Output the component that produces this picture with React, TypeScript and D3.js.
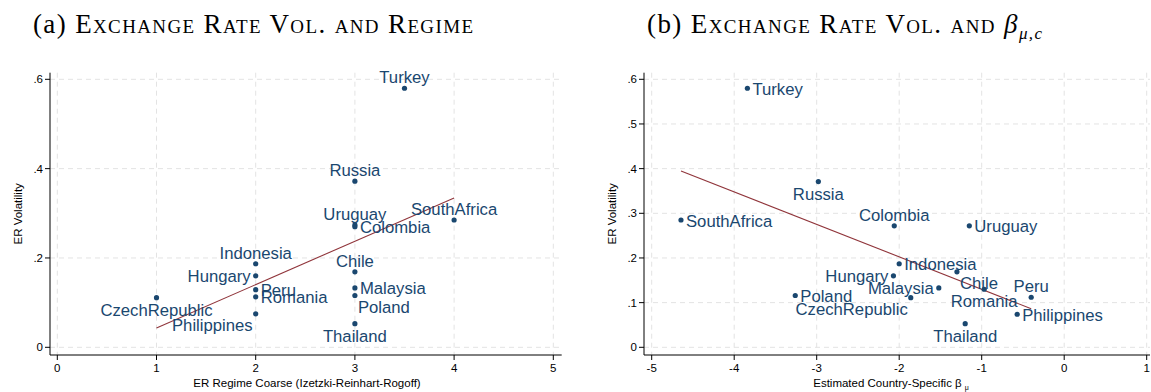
import React from "react";
import * as d3 from "d3";

// Panel (a): exchange-rate regime (coarse IRR classification) vs. ER volatility
const countriesA = [
  "Turkey", "Russia", "Uruguay", "Colombia", "SouthAfrica", "Chile", "Malaysia", "Poland",
  "Thailand", "Indonesia", "Hungary", "Peru", "Romania", "Philippines", "CzechRepublic",
];
const regimeA = [3.5, 3, 3, 3, 4, 3, 3, 3, 3, 2, 2, 2, 2, 2, 1];
const volA = [0.58, 0.372, 0.274, 0.27, 0.285, 0.169, 0.133, 0.116, 0.053, 0.187, 0.16, 0.129, 0.113, 0.075, 0.111];

// Panel (b): estimated country-specific beta vs. ER volatility
const countriesB = [
  "Turkey", "Russia", "SouthAfrica", "Poland", "CzechRepublic", "Colombia", "Uruguay", "Indonesia",
  "Hungary", "Malaysia", "Chile", "Romania", "Peru", "Philippines", "Thailand",
];
const betaB = [-3.84, -2.98, -4.645, -3.26, -1.86, -2.06, -1.15, -2.0, -2.07, -1.52, -1.3, -0.97, -0.4, -0.57, -1.2];
const volB = [0.58, 0.371, 0.285, 0.116, 0.111, 0.272, 0.272, 0.187, 0.16, 0.133, 0.169, 0.13, 0.112, 0.074, 0.053];

const xTicksA = [0, 1, 2, 3, 4, 5];
const yTicksA = [0, 0.2, 0.4, 0.6];
const xTicksB = [-5, -4, -3, -2, -1, 0, 1];
const yTicksB = [0, 0.1, 0.2, 0.3, 0.4, 0.5, 0.6];

// Marker-label clock positions (Stata style)
const clockA: Record<string, number> = {
  Turkey: 12, Russia: 12, Uruguay: 12, Colombia: 3, SouthAfrica: 12, Chile: 12, Malaysia: 3,
  Poland: 4, Thailand: 6, Indonesia: 12, Hungary: 9, Peru: 3, Romania: 3, Philippines: 7, CzechRepublic: 6,
};
const clockB: Record<string, number> = {
  Turkey: 3, Russia: 6, SouthAfrica: 3, Poland: 3, CzechRepublic: 7, Colombia: 12, Uruguay: 3,
  Indonesia: 3, Hungary: 9, Malaysia: 9, Chile: 4, Romania: 6, Peru: 12, Philippines: 3, Thailand: 6,
};

const NAVY = "#1a476f";
const MAROON = "#90353b";
const GRID = "#e3e3e3";
const SANS = "'Liberation Sans', Arial, Helvetica, sans-serif";
const SERIF = "'Liberation Serif', 'Times New Roman', serif";

function labelOffset(pos: number) {
  switch (pos) {
    case 3: return { dx: 5, dy: 6.5, anchor: "start" };
    case 9: return { dx: -5, dy: 6.5, anchor: "end" };
    case 12: return { dx: 0, dy: -5, anchor: "middle" };
    case 6: return { dx: 0, dy: 18, anchor: "middle" };
    case 4: return { dx: 3, dy: 17.5, anchor: "start" };
    case 7: return { dx: -3, dy: 17.5, anchor: "end" };
    default: return { dx: 5, dy: 6.5, anchor: "start" };
  }
}

function olsFit(xs: number[], ys: number[]) {
  const mx = d3.mean(xs)!;
  const my = d3.mean(ys)!;
  let sxy = 0, sxx = 0;
  xs.forEach((x, i) => {
    sxy += (x - mx) * (ys[i] - my);
    sxx += (x - mx) * (x - mx);
  });
  const b = sxy / sxx;
  return (x: number) => my + b * (x - mx);
}

type PanelProps = {
  names: string[];
  xs: number[];
  ys: number[];
  clock: Record<string, number>;
  xTicks: number[];
  yTicks: number[];
  xDomain: [number, number];
  xRange: [number, number];
  axisLeft: number;
  axisRight: number;
  yTitleX: number;
  xTitle: React.ReactNode;
  xTitleX: number;
  xTickFmt: (v: number) => string;
};

function Panel(p: PanelProps) {
  const top = 72.7;
  const bottom = 355;
  const x = d3.scaleLinear().domain(p.xDomain).range(p.xRange);
  const y = d3.scaleLinear().domain([0, 0.6]).range([347.3, 79.3]);
  const yFmt = (v: number) => (v === 0 ? "0" : d3.format(".1f")(v).replace(/^0/, ""));
  const fit = olsFit(p.xs, p.ys);
  const [x0, x1] = d3.extent(p.xs) as [number, number];
  const line = d3.line<number>().x((v) => x(v)).y((v) => y(fit(v)));

  return (
    <g>
      {/* grid */}
      {p.yTicks.map((t) => (
        <line key={"gy" + t} x1={p.axisLeft} x2={p.axisRight} y1={y(t)} y2={y(t)}
          stroke={GRID} strokeWidth={1} strokeDasharray="5,4" />
      ))}
      {p.xTicks.map((t) => (
        <line key={"gx" + t} x1={x(t)} x2={x(t)} y1={top} y2={bottom}
          stroke={GRID} strokeWidth={1} strokeDasharray="5,4" />
      ))}
      {/* axes */}
      <line x1={p.axisLeft} x2={p.axisLeft} y1={top} y2={bottom} stroke="#000" strokeWidth={1} />
      <line x1={p.axisLeft} x2={p.axisRight} y1={bottom} y2={bottom} stroke="#000" strokeWidth={1} />
      {p.yTicks.map((t) => (
        <g key={"ty" + t}>
          <line x1={p.axisLeft - 5} x2={p.axisLeft} y1={y(t)} y2={y(t)} stroke="#000" />
          <text x={p.axisLeft - 7} y={y(t)} dy="0.36em" textAnchor="end"
            fontFamily={SANS} fontSize={11.5} fill="#000">{yFmt(t)}</text>
        </g>
      ))}
      {p.xTicks.map((t) => (
        <g key={"tx" + t}>
          <line x1={x(t)} x2={x(t)} y1={bottom} y2={bottom + 5} stroke="#000" />
          <text x={x(t)} y={371.5} textAnchor="middle"
            fontFamily={SANS} fontSize={11.5} fill="#000">{p.xTickFmt(t)}</text>
        </g>
      ))}
      {/* axis titles */}
      <text transform={`translate(${p.yTitleX},${(top + bottom) / 2}) rotate(-90)`} textAnchor="middle"
        fontFamily={SANS} fontSize={11.5} fill="#000">ER Volatility</text>
      <text x={p.xTitleX} y={387} textAnchor="middle" fontFamily={SANS} fontSize={11.5} fill="#000">
        {p.xTitle}
      </text>
      {/* fitted line */}
      <path d={line([x0, x1]) || ""} fill="none" stroke={MAROON} strokeWidth={1.1} />
      {/* points + labels */}
      {p.names.map((n, i) => {
        const cx = x(p.xs[i]);
        const cy = y(p.ys[i]);
        const o = labelOffset(p.clock[n]);
        return (
          <g key={n}>
            <circle cx={cx} cy={cy} r={2.6} fill={NAVY} />
            <text x={cx + o.dx} y={cy + o.dy} textAnchor={o.anchor as any}
              fontFamily={SANS} fontSize={16.7} fill={NAVY}>{n}</text>
          </g>
        );
      })}
    </g>
  );
}

export default function App() {
  const intFmt = (v: number) => d3.format("d")(v).replace("−", "-");
  return (
    <svg width={1151} height={392} viewBox="0 0 1151 392"
      style={{ display: "block", position: "absolute", left: 0, top: 0, background: "#fff" }}>
      <rect x={0} y={0} width={1151} height={392} fill="#fff" />
      <text x={33} y={33} fontFamily={SERIF} fontSize={27} fill="#000"
        textLength={440} lengthAdjust="spacing">
        <tspan>(a) </tspan>
        <tspan style={{ fontVariant: "small-caps" }}>Exchange Rate Vol. and Regime</tspan>
      </text>
      <text x={647} y={33} fontFamily={SERIF} fontSize={27} fill="#000"
        textLength={395} lengthAdjust="spacing">
        <tspan>(b) </tspan>
        <tspan style={{ fontVariant: "small-caps" }}>Exchange Rate Vol. and </tspan>
        <tspan fontStyle="italic">β</tspan>
        <tspan fontStyle="italic" fontSize={17} dy={6}>μ,c</tspan>
      </text>
      <Panel
        names={countriesA} xs={regimeA} ys={volA} clock={clockA}
        xTicks={xTicksA} yTicks={yTicksA}
        xDomain={[0, 5]} xRange={[57.3, 553.3]} axisLeft={50} axisRight={561.7}
        yTitleX={22} xTitleX={307}
        xTitle={"ER Regime Coarse (Izetzki-Reinhart-Rogoff)"}
        xTickFmt={intFmt}
      />
      <Panel
        names={countriesB} xs={betaB} ys={volB} clock={clockB}
        xTicks={xTicksB} yTicks={yTicksB}
        xDomain={[-5, 1]} xRange={[651.7, 1146.7]} axisLeft={644} axisRight={1150}
        yTitleX={616} xTitleX={891}
        xTitle={<>Estimated Country-Specific β<tspan fontSize={7} dx={3} dy={3}>μ</tspan></>}
        xTickFmt={intFmt}
      />
    </svg>
  );
}
